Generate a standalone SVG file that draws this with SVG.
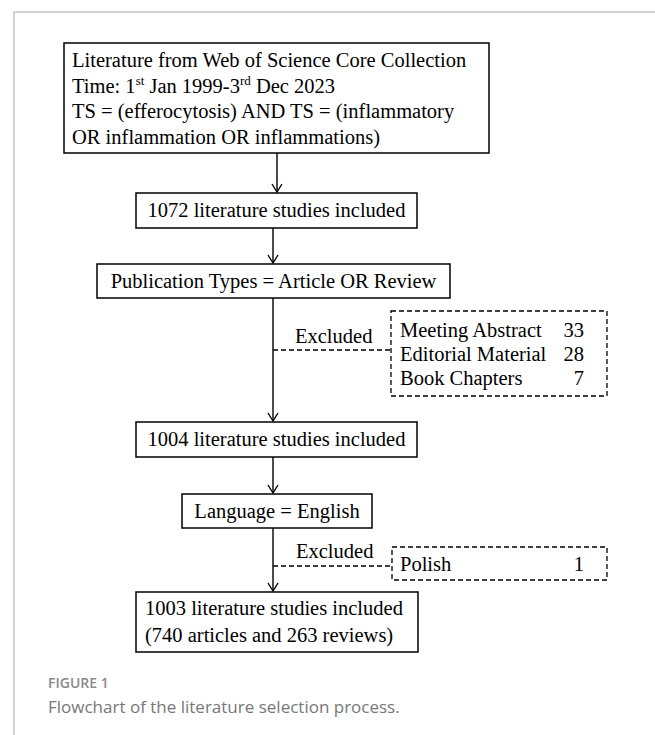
<svg xmlns="http://www.w3.org/2000/svg" width="655" height="735" viewBox="0 0 655 735">
<defs>
<style>
.t{font-family:"Liberation Serif","Times New Roman",serif;font-size:20.5px;fill:#000}
.box{fill:#fff;stroke:#000;stroke-width:1.5}
.dbox{fill:#fff;stroke:#000;stroke-width:1.3;stroke-dasharray:5,3}
.line{stroke:#000;stroke-width:1.4;fill:none}
.dline{stroke:#000;stroke-width:1.3;fill:none;stroke-dasharray:5,3}
.cap1{font-family:"Open Sans","Noto Sans",sans-serif;font-size:14px;font-weight:600;fill:#8a8a8a}
.cap2{font-family:"Open Sans","Noto Sans",sans-serif;font-size:17px;fill:#777}
</style>
<marker id="ah" viewBox="-10 -6 12 12" markerWidth="12" markerHeight="12" refX="0" refY="0" orient="auto" markerUnits="userSpaceOnUse">
<path d="M-8,-5 L0,0 L-8,5" fill="none" stroke="#000" stroke-width="1.4"/>
</marker>
</defs>
<rect width="655" height="735" fill="#fff"/>
<path d="M14,735 V12 H655" fill="none" stroke="#c4c4c4" stroke-width="1.5"/>

<g id="connectors">
<line class="line" x1="277" y1="153" x2="277" y2="192" marker-end="url(#ah)"/>
<line class="line" x1="273" y1="228" x2="273" y2="263" marker-end="url(#ah)"/>
<line class="line" x1="273" y1="298" x2="273" y2="421" marker-end="url(#ah)"/>
<line class="dline" x1="273" y1="350" x2="391" y2="350"/>
<line class="line" x1="273" y1="457" x2="273" y2="493" marker-end="url(#ah)"/>
<line class="line" x1="273" y1="528" x2="273" y2="591" marker-end="url(#ah)"/>
<line class="dline" x1="273" y1="566" x2="392" y2="566"/>
<text class="t" x="295" y="343">Excluded</text>
<text class="t" x="296" y="558">Excluded</text>
</g>

<g id="n1">
<rect class="box" x="64" y="43" width="425" height="110"/>
<text class="t" x="72" y="67">Literature from Web of Science Core Collection</text>
<text class="t" x="72" y="92.5">Time: 1<tspan dy="-8" font-size="13">st</tspan><tspan dy="8"> Jan 1999-3</tspan><tspan dy="-8" font-size="13">rd</tspan><tspan dy="8"> Dec 2023</tspan></text>
<text class="t" x="72" y="118">TS = (efferocytosis) AND TS = (inflammatory</text>
<text class="t" x="72" y="143.5">OR inflammation OR inflammations)</text>
</g>

<g id="n2">
<rect class="box" x="136" y="193" width="281" height="35"/>
<text class="t" x="276.5" y="217" text-anchor="middle">1072 literature studies included</text>
</g>

<g id="n3">
<rect class="box" x="97" y="264" width="353" height="34"/>
<text class="t" x="273.5" y="288" text-anchor="middle">Publication Types = Article OR Review</text>
</g>

<g id="n4">
<rect class="dbox" x="391" y="311" width="216" height="85"/>
<text class="t" x="400" y="337">Meeting Abstract</text>
<text class="t" x="584" y="337" text-anchor="end">33</text>
<text class="t" x="400" y="361">Editorial Material</text>
<text class="t" x="584" y="361" text-anchor="end">28</text>
<text class="t" x="400" y="385">Book Chapters</text>
<text class="t" x="584" y="385" text-anchor="end">7</text>
</g>

<g id="n5">
<rect class="box" x="136" y="422" width="281" height="35"/>
<text class="t" x="276.5" y="446" text-anchor="middle">1004 literature studies included</text>
</g>

<g id="n6">
<rect class="box" x="182" y="494" width="190" height="34"/>
<text class="t" x="277" y="518" text-anchor="middle">Language = English</text>
</g>

<g id="n7">
<rect class="dbox" x="392" y="547" width="215" height="33"/>
<text class="t" x="400" y="571">Polish</text>
<text class="t" x="584" y="571" text-anchor="end">1</text>
</g>

<g id="n8">
<rect class="box" x="136" y="592" width="282" height="60"/>
<text class="t" x="145" y="615">1003 literature studies included</text>
<text class="t" x="145" y="642">(740 articles and 263 reviews)</text>
</g>

<text class="cap1" x="48" y="688">FIGURE 1</text>
<text class="cap2" x="48" y="713">Flowchart of the literature selection process.</text>
</svg>
